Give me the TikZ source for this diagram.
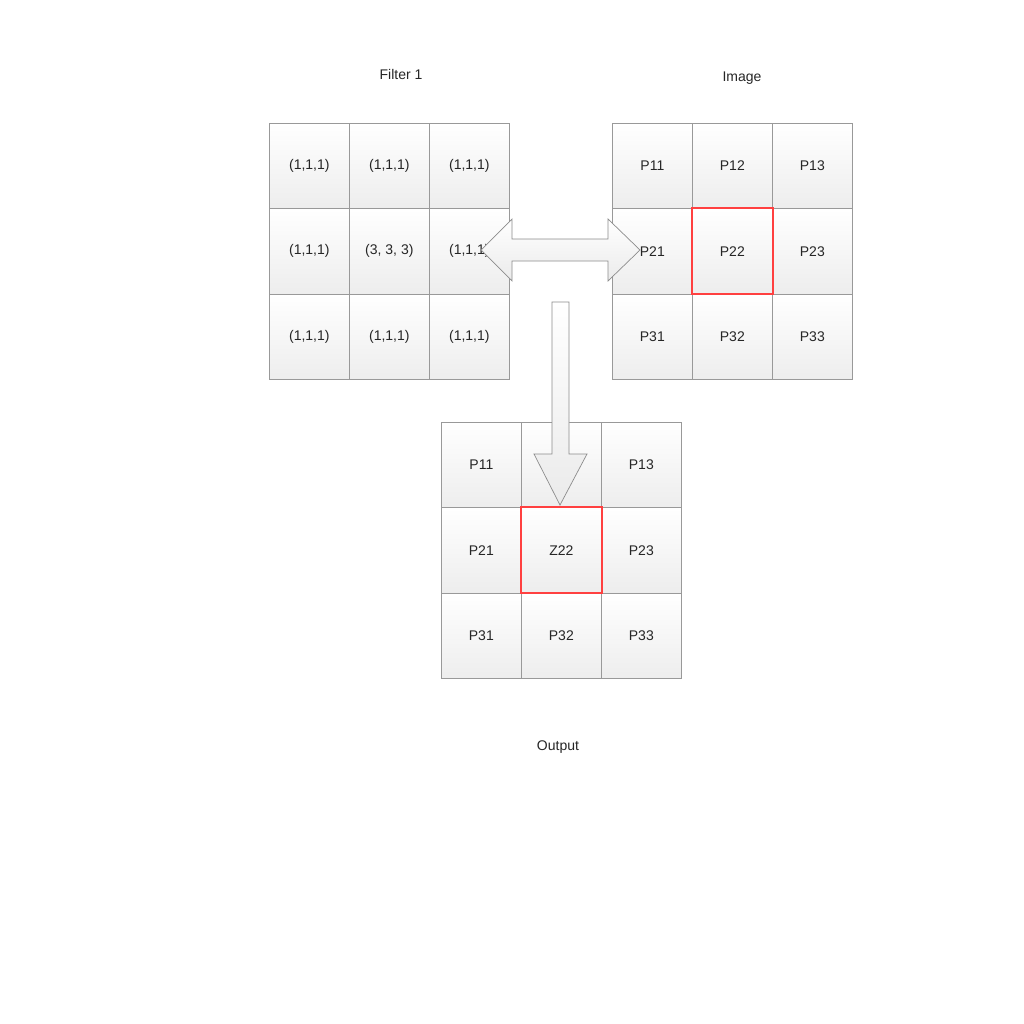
\documentclass[tikz,border=0pt]{standalone}
\usepackage{fontspec}
\setmainfont{Liberation Sans}
\begin{document}
\begin{tikzpicture}[x=1pt,y=-1pt,
  cell/.style={draw=black!40, line width=0.7pt, minimum width=80pt, minimum height=85.33pt,
    top color=white, bottom color=black!7, inner sep=0pt, anchor=north west,
    font=\fontsize{14}{16}\selectfont, text=black!85},
  redbox/.style={draw=red!75!white, line width=2pt},
  blockarrow/.style={draw=black!45, line width=0.7pt, top color=white, bottom color=black!8},
  caption/.style={font=\fontsize{14}{16}\selectfont, text=black!85}]
\useasboundingbox (0,0) rectangle (1024,1024);
\fill[white] (0,0) rectangle (1024,1024);
% Filter grid
\foreach \r/\c/\t in {1/1/{(1,1,1)},1/2/{(1,1,1)},1/3/{(1,1,1)},
                      2/1/{(1,1,1)},2/2/{(3, 3, 3)},2/3/{(1,1,1)},
                      3/1/{(1,1,1)},3/2/{(1,1,1)},3/3/{(1,1,1)}}
  \node[cell] (f\r\c) at ({269+80*(\c-1)},{123+85.33*(\r-1)}) {\t};
% Image grid
\foreach \r/\c in {1/1,1/2,1/3,2/1,2/2,2/3,3/1,3/2,3/3}
  \node[cell] (i\r\c) at ({612+80*(\c-1)},{123+85.33*(\r-1)}) {P\r\c};
% Output grid
\foreach \r/\c/\t in {1/1/P11,1/2/{},1/3/P13,2/1/P21,2/2/Z22,2/3/P23,3/1/P31,3/2/P32,3/3/P33}
  \node[cell] (o\r\c) at ({441+80*(\c-1)},{422+85.33*(\r-1)}) {\t};
% Red highlights
\draw[redbox] (i22.north west) rectangle (i22.south east);
\draw[redbox] (o22.north west) rectangle (o22.south east);
% Titles
\node[caption] (tf) at (401,74) {Filter 1};
\node[caption] (ti) at (742,78) {Image};
\node[caption] (to) at (558,747) {Output};
% Double arrow between filter and image
\draw[blockarrow] (481,250) -- (512,219) -- (512,239) -- (608,239) -- (608,219) -- (640,250)
  -- (608,281) -- (608,261) -- (512,261) -- (512,281) -- cycle;
% Down arrow to output
\draw[blockarrow] (552,302) -- (569,302) -- (569,454) -- (587,454) -- (560,505)
  -- (534,454) -- (552,454) -- cycle;
\end{tikzpicture}
\end{document}
